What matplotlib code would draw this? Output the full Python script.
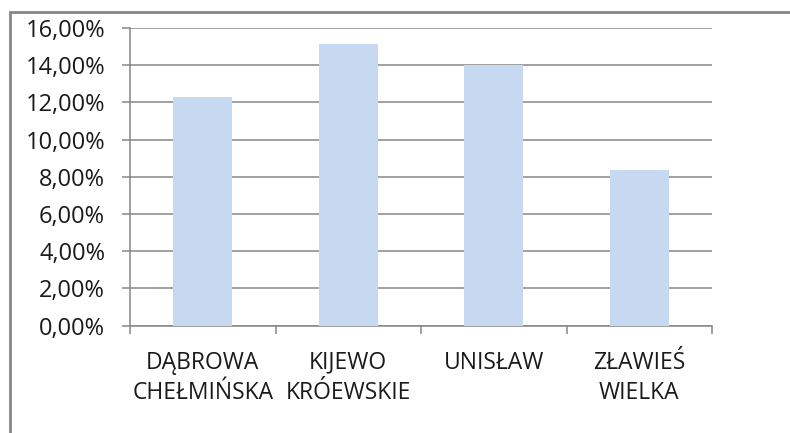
import matplotlib.pyplot as plt
from matplotlib.patches import Rectangle
from matplotlib.ticker import FuncFormatter

# --- Data ---
categories = ["DĄBROWA\nCHEŁMIŃSKA", "KIJEWO\nKRÓEWSKIE", "UNISŁAW", "ZŁAWIEŚ\nWIELKA"]
values = [12.29, 15.14, 13.99, 8.37]
y_ticks = [0, 2, 4, 6, 8, 10, 12, 14, 16]

plt.rcParams['font.family'] = ['Open Sans', 'DejaVu Sans']

fig = plt.figure(figsize=(7.9, 4.33), dpi=100)
ax = fig.add_axes([130 / 790, 1 - 325.7 / 433, 582 / 790, 297.7 / 433])

# --- Bars ---
x = range(len(categories))
ax.bar(x, values, width=0.405, color="#C6D9F0", zorder=3)

# --- Axes ---
ax.set_xlim(-0.5, len(categories) - 0.5)
ax.set_ylim(0, 16)
ax.set_yticks(y_ticks)
ax.yaxis.set_major_formatter(FuncFormatter(lambda v, p: f"{v:.2f}%".replace(".", ",")))
ax.grid(axis="y", color="#868686", linewidth=1.1, zorder=0)

ax.set_xticks([i + 0.5 for i in range(-1, len(categories))], minor=False)
ax.set_xticklabels([])
ax.set_xticks(list(x), minor=True)
ax.set_xticklabels(categories, minor=True, fontsize=16.5, color="#1a1a1a", linespacing=1.35)
ax.tick_params(axis="x", which="minor", length=0, pad=18)
ax.tick_params(axis="x", which="major", length=6, color="#868686", width=1.1)
ax.tick_params(axis="y", length=6, color="#868686", width=1.1, pad=12,
               labelsize=17, labelcolor="#1a1a1a")

for side in ["top", "right"]:
    ax.spines[side].set_visible(False)
for side in ["left", "bottom"]:
    ax.spines[side].set_color("#868686")
    ax.spines[side].set_linewidth(1.1)

# --- Outer frame (cropped chart border) ---
fig.patches.append(Rectangle((9.5 / 790, -0.2), 1.2, 1.2 - 12 / 433,
                             transform=fig.transFigure, fill=False,
                             edgecolor="#868686", linewidth=2))

plt.savefig("out.png", dpi=100)
